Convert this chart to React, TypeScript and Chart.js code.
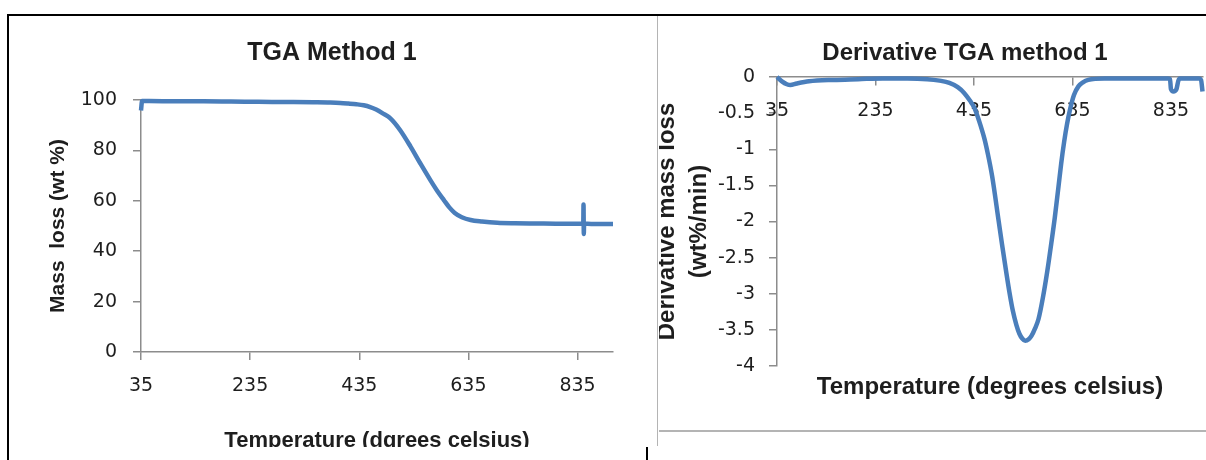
import React, { useEffect, useRef } from 'react';
import { Chart, registerables } from 'chart.js';

Chart.register(...registerables);

// ---------- data ----------
const tgaTemperature = [35, 37, 50, 100, 150, 200, 250, 300, 350, 382, 400, 415, 430, 443, 455, 466, 478, 492, 510, 529, 547, 565, 578, 590, 600, 610, 623, 639, 660, 688, 720, 760, 800, 830, 845.5, 846, 846.5, 847, 860, 880, 900];
const tgaMass = [95.8, 99.6, 99.6, 99.5, 99.5, 99.4, 99.3, 99.2, 99.1, 99.0, 98.85, 98.6, 98.3, 97.9, 97.2, 96.2, 94.7, 92.7, 88.0, 81.5, 74.8, 68.3, 63.9, 60.3, 57.4, 55.2, 53.5, 52.4, 51.8, 51.3, 51.1, 51.0, 50.9, 50.9, 50.9, 58.5, 46.8, 50.9, 50.8, 50.8, 50.8];

const dtgTemperature = [35, 45, 55, 62, 75, 100, 150, 200, 250, 300, 340, 365, 385, 402, 415, 427, 436, 445, 456, 463, 472, 485, 492, 500, 507, 514, 521, 527, 533, 539, 546, 552, 559, 566, 575, 584, 592, 599, 606, 612, 618, 624, 630, 638, 647, 657, 667, 700, 750, 800, 828, 833, 835, 840, 846, 850, 853, 870, 892, 896, 899];
const dtgRate = [0, -0.06, -0.1, -0.11, -0.09, -0.06, -0.04, -0.03, -0.02, -0.02, -0.03, -0.05, -0.08, -0.14, -0.22, -0.33, -0.43, -0.6, -0.85, -1.06, -1.38, -1.99, -2.32, -2.68, -2.98, -3.24, -3.43, -3.55, -3.62, -3.65, -3.63, -3.58, -3.48, -3.35, -3.05, -2.68, -2.3, -1.95, -1.55, -1.2, -0.9, -0.65, -0.45, -0.25, -0.13, -0.07, -0.04, -0.02, -0.02, -0.02, -0.02, -0.03, -0.17, -0.2, -0.17, -0.05, -0.02, -0.02, -0.02, -0.04, -0.2];

const temperatureTicks = [35, 235, 435, 635, 835];
const massTicks = [0, 20, 40, 60, 80, 100];
const rateTicks = [0, -0.5, -1, -1.5, -2, -2.5, -3, -3.5, -4];

const TEMP_MIN = 35;
const TEMP_MAX = 900;

const leftTitle = 'TGA Method 1';
const leftXTitle = 'Temperature (dgrees celsius)';
const leftYTitle = 'Mass  loss (wt %)';
const rightTitle = 'Derivative TGA method 1';
const rightXTitle = 'Temperature (degrees celsius)';
const rightYTitle = ['Derivative mass loss', '(wt%/min)'];

// ---------- styles ----------
const BLUE = '#4a7ebb';
const AXIS = '#8c8c8c';
const TEXT = '#1e1e1e';
const TICK_FONT = { family: '"DejaVu Sans", sans-serif', size: 19 };
const BOLD = '"Liberation Sans", Arial, sans-serif';

const fixTicks = (values: number[]) => (scale: any) => {
  scale.ticks = values.map((v) => ({ value: v }));
};

// an empty right-hand box that only reserves room, so the full-width title stays centred on the canvas
const spacerAxis = (w: number) => ({
  type: 'linear',
  axis: 'y',
  position: 'right',
  min: 0,
  max: 1,
  afterFit: (s: any) => {
    s.width = w;
  },
  ticks: { display: false },
  grid: { display: false, drawTicks: false },
  border: { display: false },
  title: { display: false },
});

export default function App() {
  const leftRef = useRef<HTMLCanvasElement | null>(null);
  const rightRef = useRef<HTMLCanvasElement | null>(null);

  useEffect(() => {
    const tgaPoints = tgaTemperature.map((t, i) => ({ x: t, y: tgaMass[i] }));
    const dtgPoints = dtgTemperature.map((t, i) => ({ x: t, y: dtgRate[i] }));

    const left = new Chart(leftRef.current as HTMLCanvasElement, {
      type: 'line',
      data: {
        datasets: [
          {
            data: tgaPoints,
            borderColor: BLUE,
            borderWidth: 4.5,
            pointRadius: 0,
            cubicInterpolationMode: 'monotone',
            clip: false,
            xAxisID: 'x',
            yAxisID: 'y',
          } as any,
        ],
      },
      options: {
        responsive: false,
        animation: false,
        events: [],
        layout: { padding: 0 },
        plugins: {
          legend: { display: false },
          tooltip: { enabled: false },
          title: {
            display: true,
            text: leftTitle,
            color: TEXT,
            font: { family: BOLD, size: 25, weight: 'bold', lineHeight: 1.2 },
            padding: { top: 22.6, bottom: 31.4 },
          },
        },
        scales: {
          x: {
            type: 'linear',
            position: 'bottom',
            min: TEMP_MIN,
            max: TEMP_MAX,
            afterBuildTicks: fixTicks(temperatureTicks),
            afterFit: (s: any) => {
              s.height = 109;
            },
            ticks: { color: TEXT, font: TICK_FONT, padding: 15, maxRotation: 0, autoSkip: false, callback: (v: any) => String(v) },
            grid: { display: true, drawOnChartArea: false, drawTicks: true, tickLength: 8, color: AXIS, lineWidth: 1.5 },
            border: { display: true, color: AXIS, width: 1.5 },
            title: {
              display: true,
              text: leftXTitle,
              color: TEXT,
              font: { family: BOLD, size: 22, weight: 'bold', lineHeight: 1.2 },
              padding: { top: 0, bottom: 7 },
            },
          },
          y: {
            type: 'linear',
            position: 'left',
            min: 0,
            max: 100,
            afterBuildTicks: fixTicks(massTicks),
            afterFit: (s: any) => {
              s.width = 123;
            },
            ticks: { color: TEXT, font: TICK_FONT, padding: 16, callback: (v: any) => String(v) },
            grid: { display: true, drawOnChartArea: false, drawTicks: true, tickLength: 8, color: AXIS, lineWidth: 1.5 },
            border: { display: true, color: AXIS, width: 1.5 },
            title: {
              display: true,
              text: leftYTitle,
              color: TEXT,
              font: { family: BOLD, size: 21, weight: 'bold', lineHeight: 1.2 },
              padding: { top: 28, bottom: 0 },
            },
          },
          pad: spacerAxis(33),
        },
      } as any,
    });

    const right = new Chart(rightRef.current as HTMLCanvasElement, {
      type: 'line',
      data: {
        datasets: [
          {
            data: dtgPoints,
            borderColor: BLUE,
            borderWidth: 4.5,
            pointRadius: 0,
            cubicInterpolationMode: 'monotone',
            clip: false,
            xAxisID: 'x',
            yAxisID: 'y',
          } as any,
        ],
      },
      options: {
        responsive: false,
        animation: false,
        events: [],
        layout: { padding: 0 },
        plugins: {
          legend: { display: false },
          tooltip: { enabled: false },
          title: {
            display: true,
            text: rightTitle,
            color: TEXT,
            font: { family: BOLD, size: 24, weight: 'bold', lineHeight: 1.2 },
            padding: { top: 23.2, bottom: 9 },
          },
        },
        scales: {
          x: {
            type: 'linear',
            position: { y: 0 },
            min: TEMP_MIN,
            max: TEMP_MAX,
            afterBuildTicks: fixTicks(temperatureTicks),
            ticks: { color: TEXT, font: TICK_FONT, padding: 15, maxRotation: 0, autoSkip: false, callback: (v: any) => String(v) },
            grid: { display: true, drawOnChartArea: false, drawTicks: true, tickLength: 8, color: AXIS, lineWidth: 1.5 },
            border: { display: true, color: AXIS, width: 1.5 },
          },
          xTitle: {
            type: 'linear',
            axis: 'x',
            position: 'bottom',
            min: TEMP_MIN,
            max: TEMP_MAX,
            afterFit: (s: any) => {
              s.height = 65;
            },
            ticks: { display: false },
            grid: { display: false, drawTicks: false },
            border: { display: false },
            title: {
              display: true,
              text: rightXTitle,
              color: TEXT,
              font: { family: BOLD, size: 24, weight: 'bold', lineHeight: 1.2 },
              padding: { top: 0, bottom: 29 },
            },
          },
          y: {
            type: 'linear',
            position: 'left',
            min: -4,
            max: 0,
            afterBuildTicks: fixTicks(rateTicks),
            afterFit: (s: any) => {
              s.width = 123;
            },
            ticks: { color: TEXT, font: TICK_FONT, padding: 14, callback: (v: any) => String(v) },
            grid: { display: true, drawOnChartArea: false, drawTicks: true, tickLength: 8, color: AXIS, lineWidth: 1.5 },
            border: { display: true, color: AXIS, width: 1.5 },
            title: {
              display: true,
              text: rightYTitle,
              color: TEXT,
              font: { family: BOLD, size: 24, weight: 'bold', lineHeight: 1.35 },
              padding: { top: -3, bottom: 0 },
            },
          },
          pad: spacerAxis(73),
        },
      } as any,
    });

    return () => {
      left.destroy();
      right.destroy();
    };
  }, []);

  const abs = (s: React.CSSProperties): React.CSSProperties => ({ position: 'absolute', ...s });

  return (
    <div style={abs({ left: 0, top: 0, width: 1206, height: 460, overflow: 'hidden', background: '#ffffff' })}>
      <div style={abs({ left: 18, top: 16, width: 639, height: 431, overflow: 'hidden' })}>
        <canvas ref={leftRef} width={628} height={445} style={abs({ left: 0, top: 0, width: 628, height: 445 })} />
      </div>
      <div style={abs({ left: 659, top: 16, width: 547, height: 415, overflow: 'hidden' })}>
        <canvas ref={rightRef} width={622} height={415} style={abs({ left: -5, top: 0, width: 622, height: 415 })} />
      </div>
      {/* frame lines of the screenshot */}
      <div style={abs({ left: 7, top: 14, width: 1199, height: 2, background: '#000' })} />
      <div style={abs({ left: 7, top: 14, width: 2, height: 446, background: '#000' })} />
      <div style={abs({ left: 657, top: 16, width: 1, height: 430, background: '#b4b4b4' })} />
      <div style={abs({ left: 659, top: 430, width: 547, height: 2, background: '#b4b4b4' })} />
      <div style={abs({ left: 646, top: 447, width: 2, height: 13, background: '#000' })} />
    </div>
  );
}
